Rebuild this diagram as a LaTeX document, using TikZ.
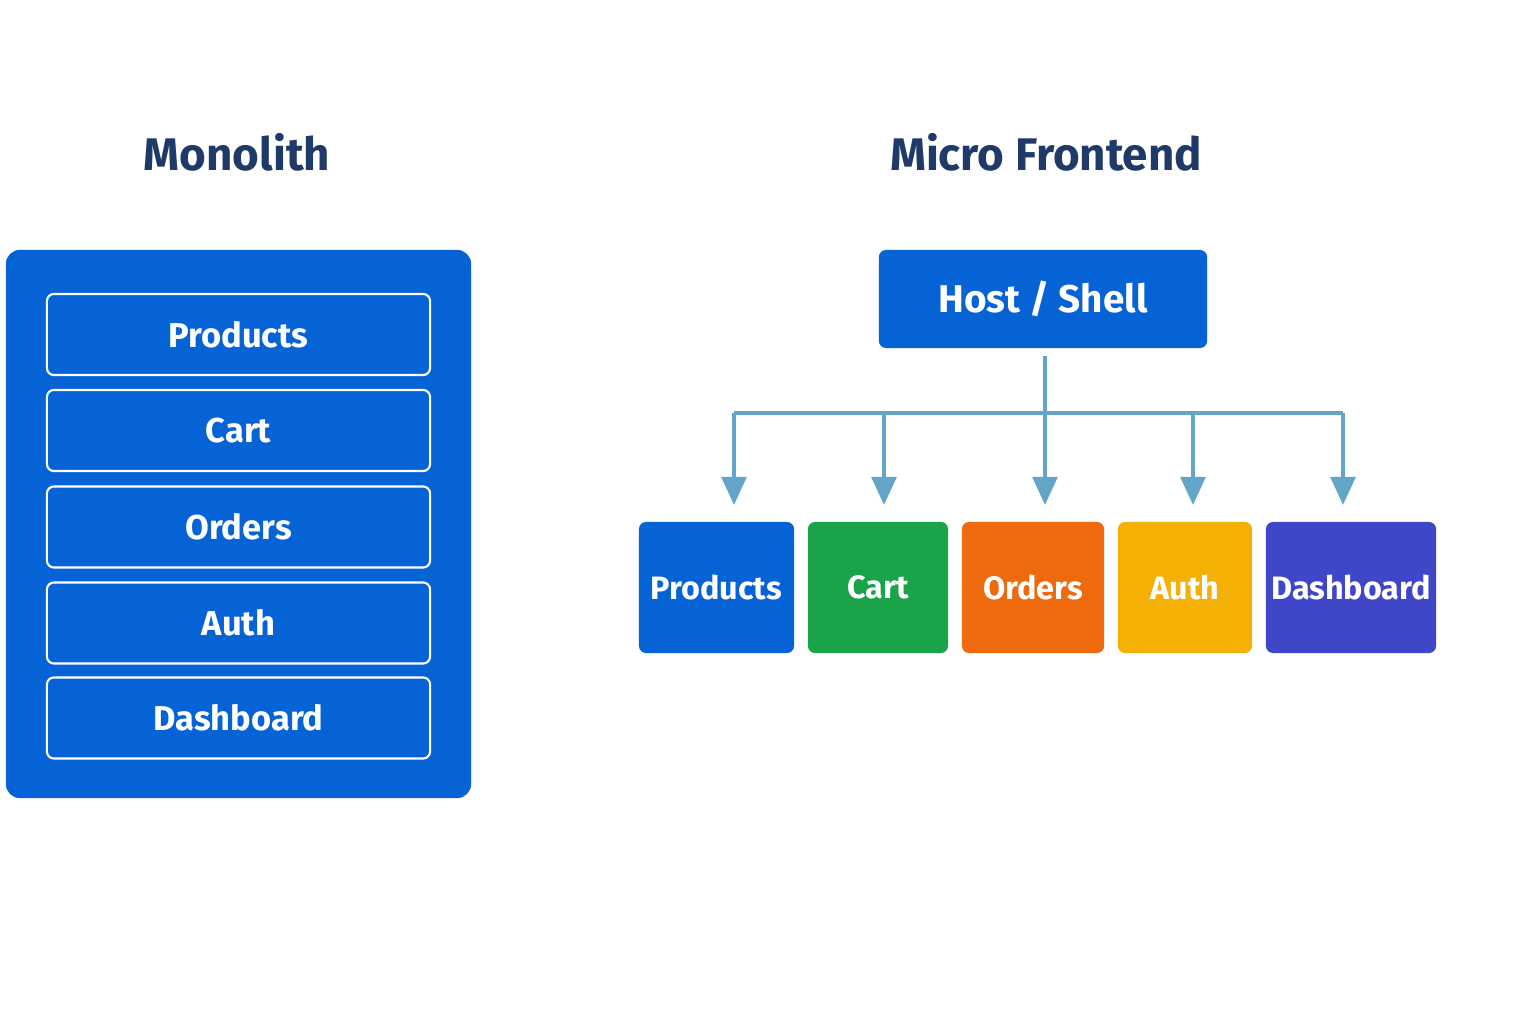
\documentclass[tikz,border=0pt]{standalone}
\usepackage{fontspec}
\setmainfont{Fira Sans}
\usetikzlibrary{arrows.meta}
\definecolor{navy}{HTML}{1F3A68}
\definecolor{mblue}{HTML}{0563D6}
\definecolor{mgreen}{HTML}{1BA34A}
\definecolor{morange}{HTML}{EE6A0C}
\definecolor{myellow}{HTML}{F4B005}
\definecolor{mpurple}{HTML}{4046C8}
\definecolor{wire}{HTML}{62A5C8}
\tikzset{
  title/.style={text=navy, font=\fontsize{13}{15}\selectfont\bfseries},
  part/.style={draw=white, line width=0.6pt, rounded corners=2pt, text=white,
    minimum width=3.83cm, minimum height=0.81cm, font=\fontsize{9.8}{12}\selectfont\bfseries},
  micro/.style={fill=#1, rounded corners=2pt, text=white, minimum height=1.31cm,
    inner sep=0pt, font=\fontsize{9.2}{11}\selectfont\bfseries},
  link/.style={draw=wire, line width=1.2pt, -{Triangle[width=7pt,length=8pt]}}
}
\begin{document}
\begin{tikzpicture}[x=0.01cm, y=-0.01cm]
            \useasboundingbox (0,0) rectangle (1536,1024);

            % Titles
            \node[title] (tmono) at (237,152) {Monolith};
            \node[title] (tmicro) at (1046,152) {Micro Frontend};

            % Monolith block
            \node[fill=mblue, rounded corners=4pt, minimum width=4.65cm, minimum height=5.48cm] (mono) at (238.5,524) {};
            \node[part] (mprod) at (238.5,334.5) {Products};
            \node[part] (mcart) at (238.5,430.5) {Cart};
            \node[part] (mord) at (238.5,527) {Orders};
            \node[part] (mauth) at (238.5,623) {Auth};
            \node[part] (mdash) at (238.5,718) {Dashboard};

            % Host
            \node[micro=mblue, minimum width=3.28cm, minimum height=0.98cm, font=\fontsize{11}{13}\selectfont\bfseries] (host) at (1043,299) {Host / Shell};

            % Micro frontends
            \node[micro=mblue, minimum width=1.55cm] (fprod) at (716.5,587.5) {Products};
            \node[micro=mgreen, minimum width=1.40cm] (fcart) at (878,587.5) {Cart};
            \node[micro=morange, minimum width=1.42cm] (ford) at (1033,587.5) {Orders};
            \node[micro=myellow, minimum width=1.34cm] (fauth) at (1185,587.5) {Auth};
            \node[micro=mpurple, minimum width=1.70cm] (fdash) at (1351,587.5) {Dashboard};

            % Wiring
            \coordinate (top) at (1045,356);
            \coordinate (mid) at (1045,413);
            \draw[draw=wire, line width=1.2pt] (top) -- (mid);
            \draw[draw=wire, line width=1.2pt] (734,413) -- (1343,413);
            \foreach \x/\n in {734/a, 884/b, 1045/c, 1193/d, 1343/e} {
              \coordinate (j\n) at (\x,413);
              \coordinate (e\n) at (\x,505);
              \draw[link] (j\n) -- (e\n);
            }
\end{tikzpicture}
\end{document}
